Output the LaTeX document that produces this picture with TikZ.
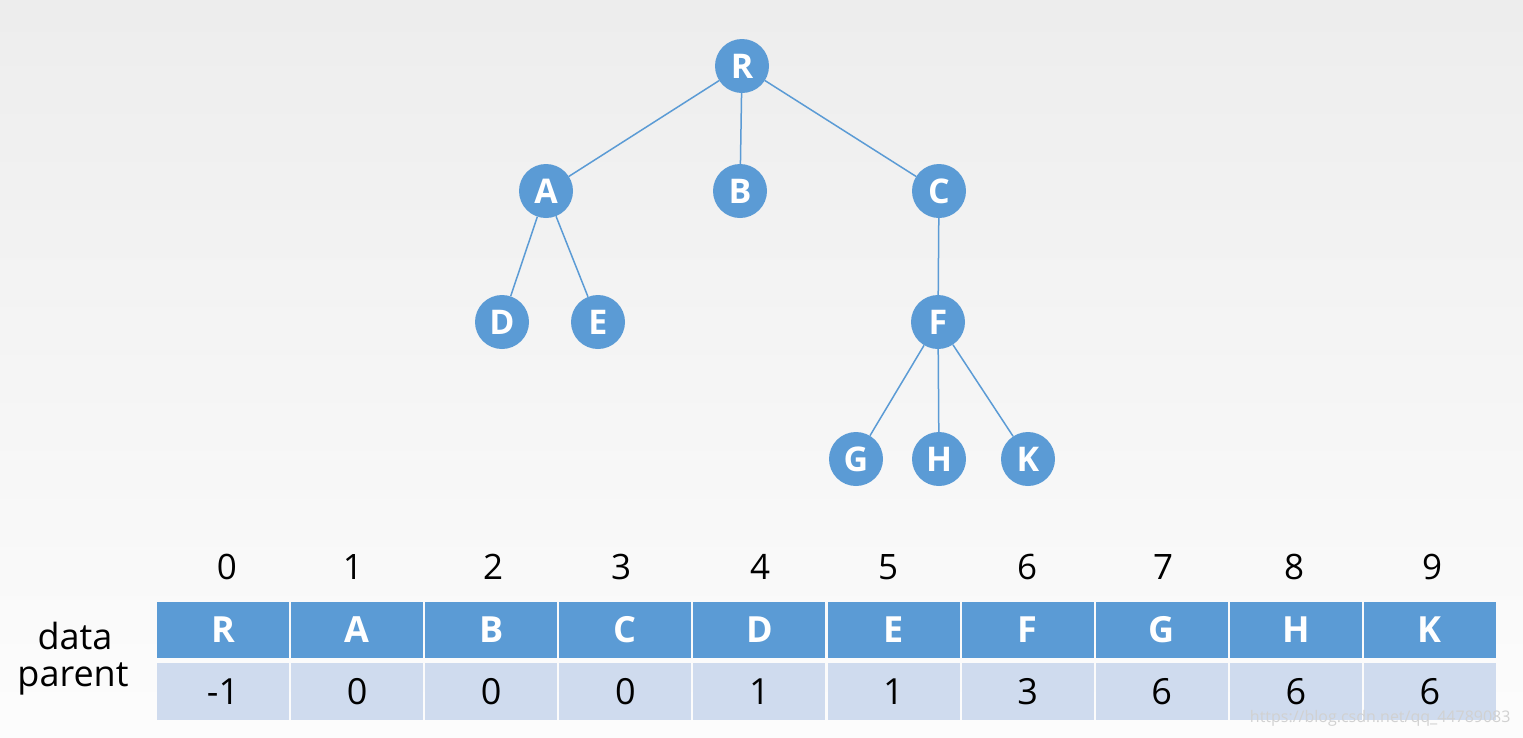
\documentclass[tikz,border=0pt]{standalone}
\usepackage{fontspec}
\setmainfont{Open Sans}
\definecolor{nodeblue}{HTML}{5B9BD5}
\definecolor{rowlight}{HTML}{CFDBEE}
\begin{document}
\begin{tikzpicture}[x=1pt,y=-1pt,
  tnode/.style={circle,fill=nodeblue,draw=none,minimum size=54pt,inner sep=0pt,text=white,font=\bfseries\fontsize{34}{34}\selectfont},
  edge/.style={draw=nodeblue,line width=1.5pt},
  headcell/.style={fill=nodeblue,draw=none,minimum width=132pt,minimum height=56pt,inner sep=0pt,text=white,font=\bfseries\fontsize{36}{36}\selectfont},
  valcell/.style={fill=rowlight,draw=none,minimum width=132pt,minimum height=57pt,inner sep=0pt,text=black,font=\fontsize{36}{36}\selectfont},
  idx/.style={font=\fontsize{35}{35}\selectfont,text=black},
  lbl/.style={font=\fontsize{36}{36}\selectfont,text=black}
]
\shade[top color=black!7,bottom color=black!1] (0,0) rectangle (1523,737);
\fill[black!7] (0,0) rectangle (1523,32);
\useasboundingbox (0,0) rectangle (1523,737);
% tree
\node[tnode] (R) at (742,66) {R};
\node[tnode] (A) at (546,191) {A};
\node[tnode] (B) at (740,191) {B};
\node[tnode] (C) at (939,191) {C};
\node[tnode] (D) at (502,322) {D};
\node[tnode] (E) at (598,322) {E};
\node[tnode] (F) at (938,322) {F};
\node[tnode] (G) at (856,459) {G};
\node[tnode] (H) at (939,459) {H};
\node[tnode] (K) at (1028,459) {K};
\draw[edge] (R) -- (A);
\draw[edge] (R) -- (B);
\draw[edge] (R) -- (C);
\draw[edge] (A) -- (D);
\draw[edge] (A) -- (E);
\draw[edge] (C) -- (F);
\draw[edge] (F) -- (G);
\draw[edge] (F) -- (H);
\draw[edge] (F) -- (K);
% table
\foreach \i/\d/\p/\x in {0/R/-1/227,1/A/0/353,2/B/0/493,3/C/0/621,4/D/1/760,5/E/1/888,6/F/3/1027,7/G/6/1163,8/H/6/1294,9/K/6/1432}{
  \node[headcell] (h\i) at ({156+134.1*\i+67},630) {\d};
  \node[valcell] (v\i) at ({156+134.1*\i+67},691.5) {\p};
  \node[idx] (n\i) at (\x,567) {\i};
}
\node[lbl] (data) at (75,636) {data};
\node[lbl] (parent) at (73,679) {parent};
\node[font=\fontsize{16}{16}\selectfont,text=black!18,anchor=east] (wm) at (1514,718) {https://blog.csdn.net/qq\_44789083};
\end{tikzpicture}
\end{document}
